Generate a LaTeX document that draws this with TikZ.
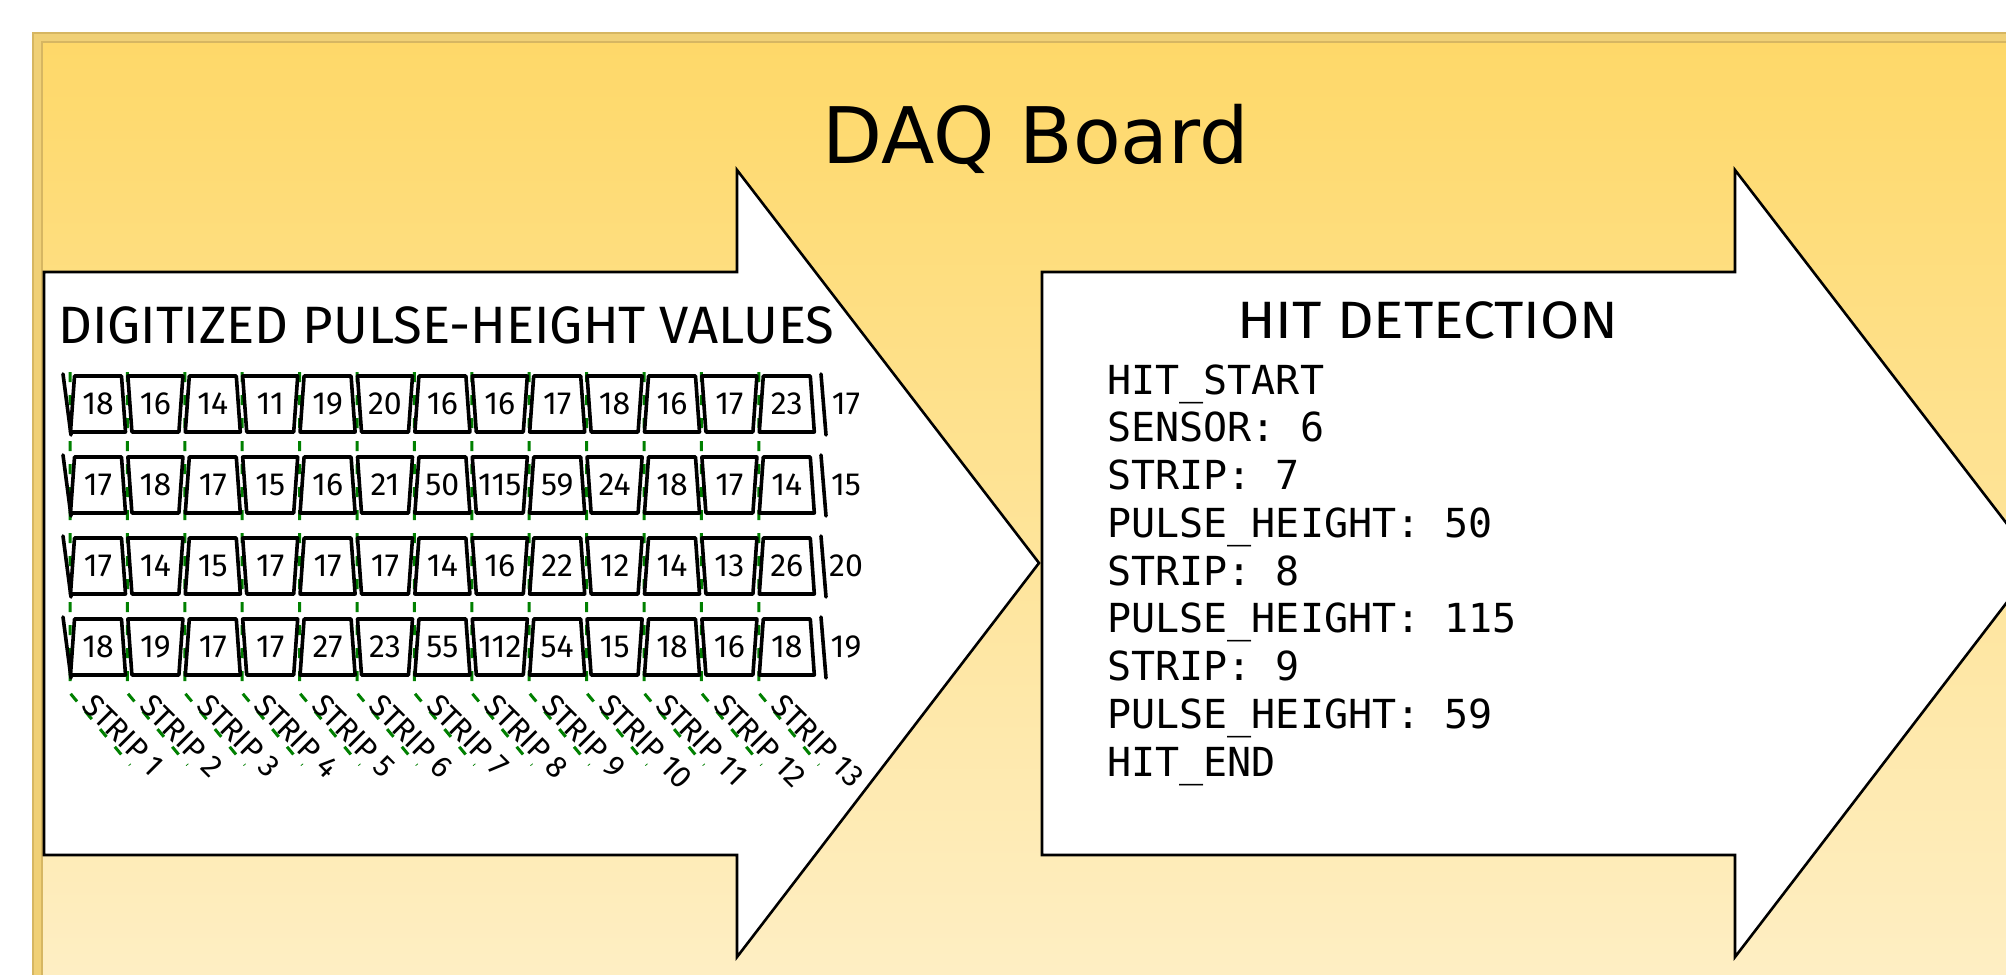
\documentclass[tikz,border=0pt]{standalone}
\usepackage{fontspec}
\setmainfont{DejaVu Sans}
\newfontfamily\handfont{Fira Sans}
\newfontfamily\codefont{DejaVu Sans Mono}
\usetikzlibrary{calc}

\definecolor{boardtop}{RGB}{254,216,104}
\definecolor{boardbottom}{RGB}{254,239,198}
\definecolor{boardrim}{RGB}{240,208,118}
\definecolor{boardline}{RGB}{214,182,98}
\definecolor{stripgreen}{RGB}{0,128,0}

\tikzstyle{stagearrow}=[draw=black, fill=white, line width=1.3pt]
\tikzstyle{cellbox}=[draw=black, fill=white, line width=1.8pt, line cap=round, line join=round]
\tikzstyle{ribbonend}=[draw=black, line width=1.8pt, line cap=round]
\tikzstyle{stripline}=[draw=stripgreen, line width=1.5pt, dash pattern=on 5pt off 6.5pt]
\tikzstyle{cellvalue}=[font=\handfont\fontsize{16}{16}\selectfont, inner sep=0pt]
\tikzstyle{heading}=[font=\handfont\fontsize{26.3}{26.3}\selectfont, inner sep=0pt]
\tikzstyle{striplabel}=[font=\handfont\fontsize{15.5}{15.5}\selectfont, inner sep=0pt, rotate=-45, anchor=west]
\tikzstyle{codeline}=[font=\codefont\fontsize{20}{24}\selectfont, inner sep=0pt, anchor=base west]

\begin{document}
\begin{tikzpicture}[x=0.5pt, y=-0.5pt]
\useasboundingbox (0,0) rectangle (2006,974);
\clip (0,0) rectangle (2006,974);

% board background with its double rim
\shade[top color=boardtop, bottom color=boardbottom] (32,33) rectangle (2040,1000);
\draw[boardrim, line width=4pt] (37.5,1000) |- (2040,37.5);
\draw[boardline, line width=1.2pt] (33,1000) |- (2040,33);
\draw[boardline, line width=1.2pt] (42,1000) |- (2040,42);

\node (board) [anchor=base, font=\fontsize{39}{39}\selectfont, inner sep=0pt] at (1036,163) {DAQ Board};

% the two processing stages
\draw[stagearrow] (44,272) -- (737,272) -- (737,170) -- (1039,563) -- (737,957) -- (737,855) -- (44,855) -- cycle;
\draw[stagearrow] (1042,272) -- (1735,272) -- (1735,170) -- (2037,563) -- (1735,957) -- (1735,855) -- (1042,855) -- cycle;

\node (digitized) [heading, anchor=base west] at (58,343) {DIGITIZED PULSE-HEIGHT VALUES};
\node (hitdet) [heading, anchor=base, xscale=1.08] at (1428,338) {HIT DETECTION};

% strip boundaries
\foreach \k in {0,...,12}
  \draw[stripline] ({70+57.4*\k},372) -- ({70+57.4*\k},693) -- ++(60,72);

\foreach \k in {1,...,13}
  \node (strip\k) [striplabel] at ({88+57.4*(\k-1)},700) {STRIP \k};

% pulse heights, one row per time sample
\foreach [count=\r] \vals in {
    {18,16,14,11,19,20,16,16,17,18,16,17,23,17},
    {17,18,17,15,16,21,50,115,59,24,18,17,14,15},
    {17,14,15,17,17,17,14,16,22,12,14,13,26,20},
    {18,19,17,17,27,23,55,112,54,15,18,16,18,19}}{
  \pgfmathsetmacro\cy{404+81*(\r-1)}
  \foreach [count=\k] \v in \vals {
    \pgfmathsetmacro\cx{98+57.4*(\k-1)}
    \ifnum\k<14
      \ifodd\k \def\wt{23.5}\def\wb{27.5}\else\def\wt{27.5}\def\wb{23.5}\fi
      \draw[cellbox] (\cx-\wt,\cy-28) -- (\cx+\wt,\cy-28) -- (\cx+\wb,\cy+28) -- (\cx-\wb,\cy+28) -- cycle;
      \node (v\r-\k) [cellvalue] at (\cx,\cy) {\v};
    \else
      \node (v\r-\k) [cellvalue] at (846,\cy) {\v};
    \fi
  }
  \draw[ribbonend] (63,\cy-30) -- (71,\cy+31);
  \draw[ribbonend] (821,\cy-30) -- (826,\cy+31);
}

% hit record
\foreach [count=\i] \txt in {HIT\_START, SENSOR: 6, STRIP: 7, PULSE\_HEIGHT: 50, STRIP: 8,
    PULSE\_HEIGHT: 115, STRIP: 9, PULSE\_HEIGHT: 59, HIT\_END}
  \node (code\i) [codeline] at (1107,{394+47.75*(\i-1)}) {\txt};

\end{tikzpicture}
\end{document}
